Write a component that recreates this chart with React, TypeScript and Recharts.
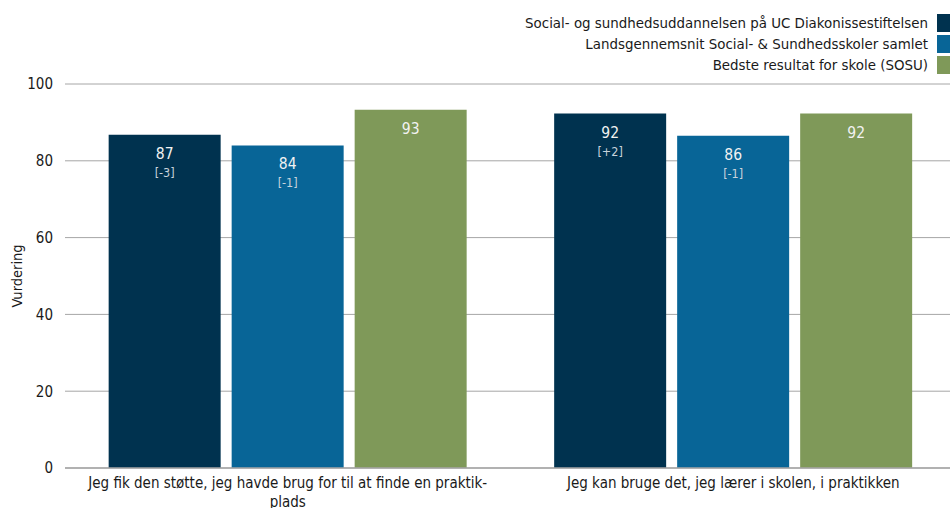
import React from 'react';
import {
  BarChart,
  Bar,
  XAxis,
  YAxis,
  CartesianGrid,
  LabelList,
} from 'recharts';

// ---- data ----
const categories = [
  'Jeg fik den støtte, jeg havde brug for til at finde en praktikplads',
  'Jeg kan bruge det, jeg lærer i skolen, i praktikken',
];
// how each category label wraps under the axis
const categoryLines = [
  ['Jeg fik den støtte, jeg havde brug for til at finde en praktik-', 'plads'],
  ['Jeg kan bruge det, jeg lærer i skolen, i praktikken'],
];

const seriesNames = [
  'Social- og sundhedsuddannelsen på UC Diakonissestiftelsen',
  'Landsgennemsnit Social- & Sundhedsskoler samlet',
  'Bedste resultat for skole (SOSU)',
];
const seriesColors = ['#00324f', '#086597', '#7f9959'];

const ucValues = [86.8, 92.3];
const avgValues = [84.0, 86.5];
const bestValues = [93.3, 92.3];

const ucLabels = ['87', '92'];
const avgLabels = ['84', '86'];
const bestLabels = ['93', '92'];

const ucDeltas = ['[-3]', '[+2]'];
const avgDeltas = ['[-1]', '[-1]'];

const yTicks = [0, 20, 40, 60, 80, 100];

const FONT = '"DejaVu Sans Condensed", "DejaVu Sans", Tahoma, sans-serif';

const data = categories.map((c, i) => ({
  category: c,
  uc: ucValues[i],
  avg: avgValues[i],
  best: bestValues[i],
}));

function makeLabel(labels: string[], deltas?: string[]) {
  return (props: any) => {
    const { x, y, width, index } = props;
    const cx = x + width / 2;
    return (
      <g>
        <text x={cx} y={y + 24} textAnchor="middle" fill="#f2f2f2" fontSize={15.5} fontFamily={FONT}>
          {labels[index]}
        </text>
        {deltas && (
          <text x={cx} y={y + 42} textAnchor="middle" fill="#c9d3dc" fontSize={12.5} fontFamily={FONT}>
            {deltas[index]}
          </text>
        )}
      </g>
    );
  };
}

function CategoryTick(props: any) {
  const { x, y, index } = props;
  const lines = categoryLines[index] || [];
  return (
    <g>
      {lines.map((line, i) => (
        <text
          key={i}
          x={x}
          y={y + 12 + i * 19}
          textAnchor="middle"
          fill="#1a1a1a"
          fontSize={15}
          fontFamily={FONT}
        >
          {line}
        </text>
      ))}
    </g>
  );
}

function LegendBox() {
  return (
    <div
      style={{
        position: 'absolute',
        top: 12,
        right: 0,
        fontFamily: FONT,
        fontSize: 14.9,
        color: '#1a1a1a',
      }}
    >
      {seriesNames.map((name, i) => (
        <div
          key={name}
          style={{ display: 'flex', justifyContent: 'flex-end', alignItems: 'center', height: 21 }}
        >
          <span style={{ marginRight: 9 }}>{name}</span>
          <span style={{ display: 'inline-block', width: 13, height: 18, background: seriesColors[i] }} />
        </div>
      ))}
    </div>
  );
}

export default function App() {
  return (
    <div style={{ position: 'absolute', left: 0, top: 0, width: 950, height: 508, overflow: 'hidden', background: '#fff' }}>
      <BarChart
        width={956}
        height={508}
        data={data}
        margin={{ top: 84, right: 0, bottom: 0, left: 0 }}
        barCategoryGap="9.8%"
        barGap={11}
      >
        <CartesianGrid vertical={false} stroke="#a6a6a6" />
        <XAxis
          dataKey="category"
          tick={<CategoryTick />}
          tickLine={false}
          axisLine={{ stroke: '#a6a6a6', strokeWidth: 1.5 }}
          interval={0}
          height={40}
        />
        <YAxis
          domain={[0, 100]}
          ticks={yTicks}
          width={65}
          axisLine={false}
          tickLine={false}
          tickMargin={6}
          tick={{ fontSize: 15, fill: '#1a1a1a', fontFamily: FONT }}
          label={{
            value: 'Vurdering',
            angle: -90,
            position: 'insideLeft',
            offset: 17,
            style: { fontSize: 14.5, fill: '#1a1a1a', fontFamily: FONT, textAnchor: 'middle' },
          }}
        />
        <Bar dataKey="uc" name={seriesNames[0]} fill={seriesColors[0]} isAnimationActive={false}>
          <LabelList dataKey="uc" content={makeLabel(ucLabels, ucDeltas)} />
        </Bar>
        <Bar dataKey="avg" name={seriesNames[1]} fill={seriesColors[1]} isAnimationActive={false}>
          <LabelList dataKey="avg" content={makeLabel(avgLabels, avgDeltas)} />
        </Bar>
        <Bar dataKey="best" name={seriesNames[2]} fill={seriesColors[2]} isAnimationActive={false}>
          <LabelList dataKey="best" content={makeLabel(bestLabels)} />
        </Bar>
      </BarChart>
      <LegendBox />
    </div>
  );
}
